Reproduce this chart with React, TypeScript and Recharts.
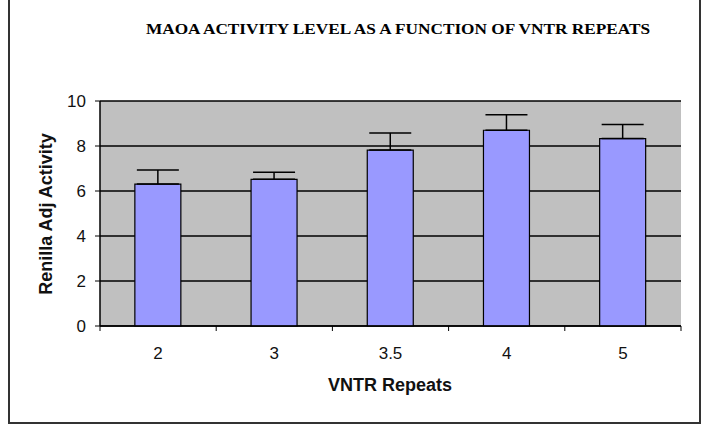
import { BarChart, Bar, XAxis, YAxis, CartesianGrid, ErrorBar } from "recharts";

const categories = ["2", "3", "3.5", "4", "5"];
const activity = [6.31, 6.52, 7.82, 8.7, 8.33];
const errUp = [0.62, 0.31, 0.76, 0.69, 0.63];
const yTicks = [0, 2, 4, 6, 8, 10];

const data = categories.map((c, i) => ({
  repeats: c,
  activity: activity[i],
  err: [0, errUp[i]],
}));

const font = "'Liberation Sans', Arial, sans-serif";

// category labels at band centres, tick marks on band edges
const XTick = (props: any) => {
  const { x, y, payload } = props;
  const off = payload.offset || 0;
  const isLast = payload.value === categories[categories.length - 1];
  return (
    <g>
      <line x1={x - off} y1={y} x2={x - off} y2={y + 5} stroke="#000" />
      {isLast && <line x1={x + off} y1={y} x2={x + off} y2={y + 5} stroke="#000" />}
      <text x={x} y={y + 33} textAnchor="middle" fontSize={17} fontFamily={font} fill="#111">
        {payload.value}
      </text>
    </g>
  );
};

export default function App() {
  return (
    <div style={{ position: "absolute", left: 0, top: 0, width: 710, height: 433, background: "#fff", overflow: "hidden" }}>
      <div
        style={{
          position: "absolute",
          left: 8,
          top: -4,
          width: 689,
          height: 424,
          border: "2px solid #333",
        }}
      />
      <div
        style={{
          position: "absolute",
          left: 98,
          width: 600,
          top: 21,
          textAlign: "center",
          fontFamily: "'Liberation Serif', 'Times New Roman', serif",
          fontWeight: "bold",
          fontSize: 15,
          whiteSpace: "nowrap",
          color: "#000",
          transform: "scaleX(1.15)",
        }}
      >
        MAOA ACTIVITY LEVEL AS A FUNCTION OF VNTR REPEATS
      </div>
      <BarChart
        width={710}
        height={433}
        data={data}
        margin={{ top: 101, right: 29, bottom: 77, left: 60 }}
        barCategoryGap="30%"
        style={{ position: "absolute", left: 0, top: 0 }}
      >
        <CartesianGrid vertical={false} stroke="#000" strokeWidth={1.5} fill="#C0C0C0" fillOpacity={1} />
        <XAxis xAxisId="top" orientation="top" dataKey="repeats" height={0} tick={false} tickLine={false} axisLine={{ stroke: "#808080", strokeWidth: 1.5 }} />
        <YAxis yAxisId="right" orientation="right" width={0} domain={[0, 10]} ticks={yTicks} tick={false} tickLine={false} axisLine={{ stroke: "#808080", strokeWidth: 1.5 }} />
        <XAxis
          dataKey="repeats"
          height={30}
          tickSize={0}
          tickMargin={0}
          tick={<XTick />}
          axisLine={{ stroke: "#000", strokeWidth: 1.5 }}
          interval={0}
        />
        <YAxis
          width={40}
          domain={[0, 10]}
          ticks={yTicks}
          interval={0}
          tickSize={5}
          tickMargin={9}
          tick={{ fontSize: 17, fontFamily: font, fill: "#111" }}
          tickLine={{ stroke: "#000" }}
          axisLine={{ stroke: "#000", strokeWidth: 1.5 }}
        />
        <Bar dataKey="activity" fill="#9999FF" stroke="#000" strokeWidth={1.2} isAnimationActive={false}>
          <ErrorBar dataKey="err" direction="y" width={21} stroke="#000" strokeWidth={1.5} />
        </Bar>
      </BarChart>
      <div
        style={{
          position: "absolute",
          left: 46,
          top: 214,
          transform: "translate(-50%, -50%) rotate(-90deg)",
          fontFamily: font,
          fontWeight: "bold",
          fontSize: 18,
          whiteSpace: "nowrap",
          color: "#111",
        }}
      >
        Renilla Adj Activity
      </div>
      <div
        style={{
          position: "absolute",
          left: 390,
          top: 385,
          transform: "translate(-50%, -50%)",
          fontFamily: font,
          fontWeight: "bold",
          fontSize: 18,
          whiteSpace: "nowrap",
          color: "#111",
        }}
      >
        VNTR Repeats
      </div>
    </div>
  );
}
